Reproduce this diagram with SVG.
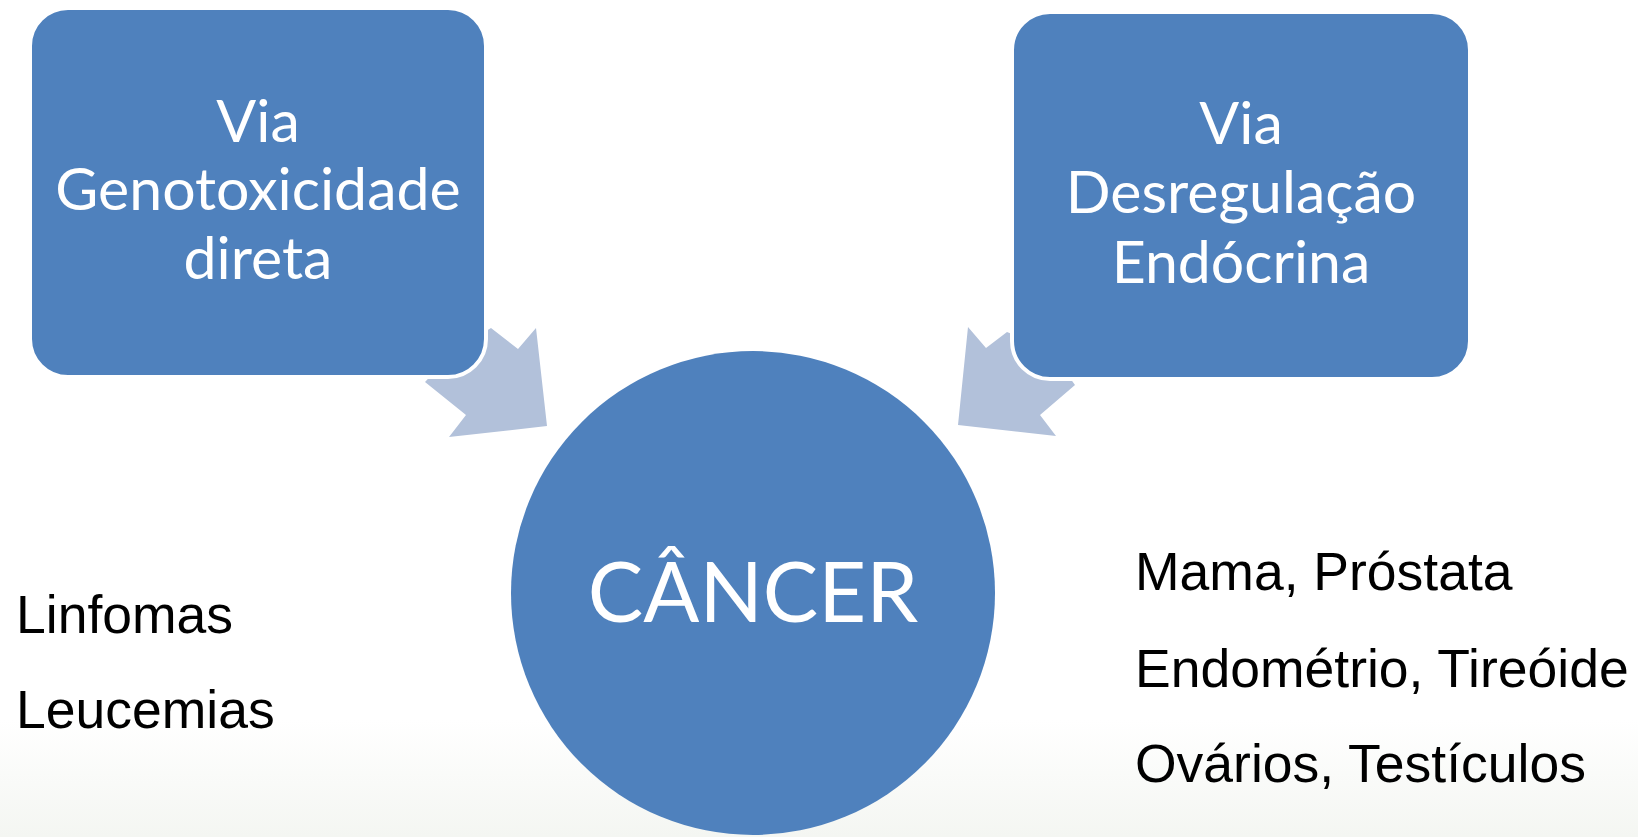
<svg xmlns="http://www.w3.org/2000/svg" width="1638" height="837" viewBox="0 0 1638 837">
<defs>
<linearGradient id="bg" x1="0" y1="0" x2="0" y2="1">
<stop offset="0" stop-color="#ffffff"/>
<stop offset="1" stop-color="#f4f6f2"/>
</linearGradient>
<style>
.box{fill:#4F81BD;stroke:#ffffff;stroke-width:4}
.arrow{fill:#B2C1DA}
.bt{font-family:Lato,"Open Sans",sans-serif;fill:#ffffff;text-anchor:middle;font-size:59px}
.lt{font-family:"Liberation Sans",Arial,sans-serif;fill:#000000;font-size:53.5px}
</style>
</defs>
<rect x="0" y="0" width="1638" height="837" fill="#ffffff"/>
<rect x="0" y="720" width="1638" height="117" fill="url(#bg)"/>
<g id="connectors">
<polygon class="arrow" points="491,328 518,349 536,328 547,426 449,437 466,415 425,382 455,350"/>
<polygon class="arrow" points="968,327 986,348 1007,332 1050,350 1075,385 1040,415 1056,436 958,425"/>
</g>
<g id="node-genotox">
<rect class="box" x="30" y="8" width="456" height="369" rx="38" ry="38"/>
<text class="bt"><tspan x="258" y="142">Via</tspan><tspan x="258" y="210">Genotoxicidade</tspan><tspan x="258" y="279">direta</tspan></text>
</g>
<g id="node-endocrina">
<rect class="box" x="1012" y="12" width="458" height="367" rx="38" ry="38"/>
<text class="bt"><tspan x="1241" y="144">Via</tspan><tspan x="1241" y="213">Desregulação</tspan><tspan x="1241" y="283">Endócrina</tspan></text>
</g>
<g id="node-cancer">
<circle cx="753" cy="593" r="242" fill="#4F81BD"/>
<text x="753" y="622" font-family="Lato,'Open Sans',sans-serif" font-size="83" fill="#ffffff" text-anchor="middle">CÂNCER</text>
</g>
<g id="labels-left">
<text class="lt" x="16" y="633">Linfomas</text>
<text class="lt" x="16" y="728">Leucemias</text>
</g>
<g id="labels-right">
<text class="lt" x="1135" y="590">Mama, Próstata</text>
<text class="lt" x="1135" y="687">Endométrio, Tireóide</text>
<text class="lt" x="1135" y="782">Ovários, Testículos</text>
</g>
</svg>
